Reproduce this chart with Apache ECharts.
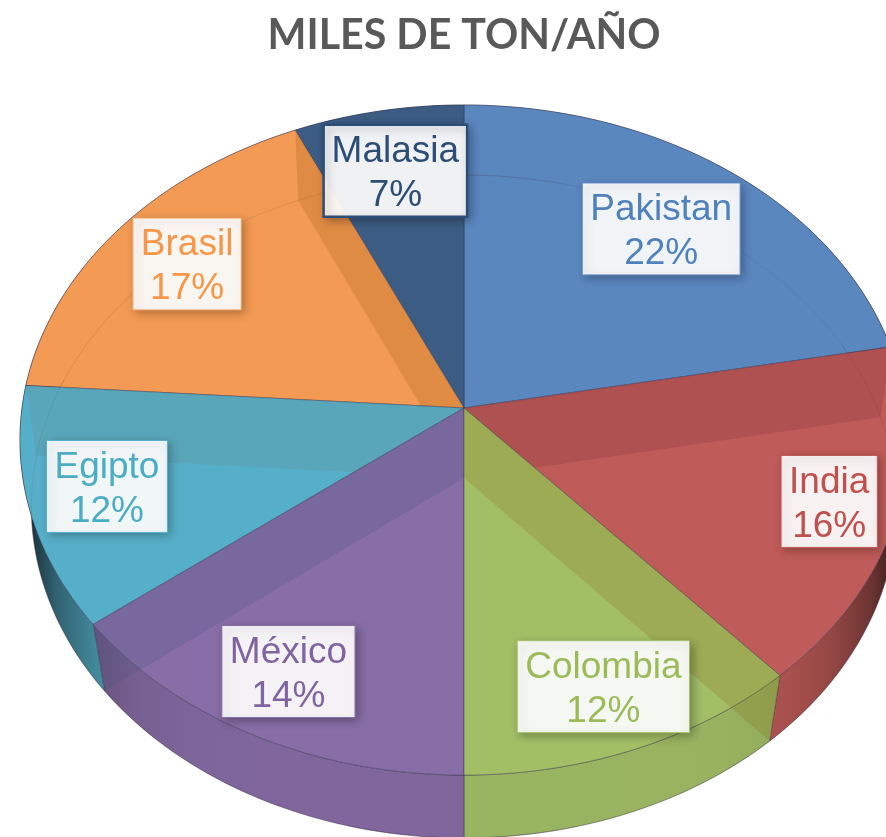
<!DOCTYPE html>
<html>
<head>
<meta charset="utf-8">
<title>MILES DE TON/AÑO</title>
<script src="https://cdn.jsdelivr.net/npm/echarts@6/dist/echarts.min.js"></script>
<style>
html, body { margin: 0; padding: 0; background: #fff; overflow: hidden; }
#chart { width: 886px; height: 837px; }
</style>
</head>
<body>
<div id="chart"></div>
<script>
var chartTitle = 'MILES DE TON/AÑO';
var categories = ['Pakistan', 'India', 'Colombia', 'México', 'Egipto', 'Brasil', 'Malasia'];
// valores, la etiqueta muestra el redondeo
var sliceValues = [22, 16.45, 11.55, 14.49, 11.6, 17.1, 6.81];

var topColors = ['#5b87bf', '#bf5b58', '#a3bf66', '#886da6', '#56afc9', '#f39a54', '#3c5c83'];
var bandColors = [null, 'rgba(106,41,48,0.18)', 'rgba(133,101,17,0.2)', 'rgba(66,84,126,0.2)', 'rgba(106,125,126,0.2)', 'rgba(148,79,4,0.2)', null];
var textColors = ['#4f81bd', '#c0504d', '#9bbb59', '#8064a2', '#4bacc6', '#f79646', '#2c4d75'];
var labelRadius = [0.738, 0.85, 0.83, 0.825, 0.823, 0.795, 0.785];
var labelTurn = [0, 0, 0.2, 0.5, 0.65, 0, 0];

// caras del cilindro: la de arriba y la de abajo, con perspectiva
var centerX = 464;
var topFace = { cy: 408, rx: 442, ry: 332, k: 0.0956 };
var bottomFace = { cy: 478, rx: 431, ry: 329, k: 0.086 };

var labelFont = '37px "Liberation Sans", Arial, sans-serif';
var measureCtx = document.createElement('canvas').getContext('2d');
measureCtx.font = labelFont;

var total = sliceValues.reduce(function (a, b) { return a + b; }, 0);
var angles = [0];
sliceValues.forEach(function (v, i) {
    angles.push(angles[i] + v / total * 360);
});

function project(face, deg, r) {
    var a = deg * Math.PI / 180;
    var u = Math.sin(a) * r;
    var v = -Math.cos(a) * r;
    var w = 1 / (1 - face.k * v);
    return [centerX + face.rx * u * w, face.cy + face.ry * v * w];
}

function rim(face, from, to) {
    var pts = [];
    var steps = Math.max(2, Math.ceil(Math.abs(to - from)));
    for (var i = 0; i <= steps; i++) {
        pts.push(project(face, from + (to - from) * i / steps, 1));
    }
    return pts;
}

function shade(hex, t) {
    var n = parseInt(hex.slice(1), 16);
    var r = Math.round((n >> 16 & 255) * (1 - t));
    var g = Math.round((n >> 8 & 255) * (1 - t));
    var b = Math.round((n & 255) * (1 - t));
    return 'rgb(' + r + ',' + g + ',' + b + ')';
}

// la pared exterior se oscurece hacia los extremos izquierdo y derecho
function wallGradient(hex) {
    var stops = [];
    for (var i = 0; i <= 24; i++) {
        var p = i / 24;
        var u = Math.abs(2 * p - 1);
        stops.push({ offset: p, color: shade(hex, 0.06 + Math.pow(u, 8) * 0.75) });
    }
    return new echarts.graphic.LinearGradient(centerX - 444, 0, centerX + 444, 0, stops, true);
}

function renderSlice(params, api) {
    var i = params.dataIndex;
    var a0 = angles[i];
    var a1 = angles[i + 1];
    var mid = (a0 + a1) / 2;
    var color = topColors[i];
    // la pared interior visible es la del lado del fondo
    var farAngle = mid < 180 ? a0 : a1;
    var depth = -Math.cos(farAngle * Math.PI / 180);
    var z = 100 + depth * 50;

    var center = [centerX, topFace.cy];
    var bottomCenter = [centerX, bottomFace.cy];
    var topRim = rim(topFace, a0, a1);
    var bottomRim = rim(bottomFace, a0, a1);
    var margin = 14;
    var innerRim = rim(bottomFace, a0 - margin, a1 + margin);

    var percent = Math.round(api.value(0)) + '%';
    var labelAt = project(topFace, mid + labelTurn[i], labelRadius[i]);
    var boxW = Math.max(measureCtx.measureText(categories[i]).width, measureCtx.measureText(percent).width) + 16;
    var boxH = 92;

    var children = [
        {
            type: 'polygon',
            z2: 10,
            shape: { points: topRim.concat(bottomRim.slice().reverse()) },
            style: { fill: wallGradient(color), stroke: 'rgba(50,40,60,0.4)', lineWidth: 1 }
        },
        {
            type: 'polygon',
            z2: z,
            shape: { points: [center].concat(topRim) },
            style: { fill: color, stroke: 'rgba(50,50,80,0.45)', lineWidth: 1 }
        },
        {
            type: 'polyline',
            z2: z + 0.5,
            shape: { points: innerRim },
            style: { fill: null, stroke: 'rgba(40,40,60,0.1)', lineWidth: 1 }
        },
        {
            type: 'rect',
            z2: 400,
            shape: { x: labelAt[0] - boxW / 2, y: labelAt[1] - boxH / 2, width: boxW, height: boxH },
            style: {
                fill: 'rgba(255,255,255,0.93)',
                stroke: i === 6 ? textColors[i] : color,
                lineWidth: i === 6 ? 2.5 : 1,
                shadowColor: 'rgba(0,0,0,0.3)',
                shadowBlur: 9,
                shadowOffsetX: 3,
                shadowOffsetY: 3
            }
        },
        {
            type: 'text',
            z2: 401,
            style: {
                text: categories[i] + '\n' + percent,
                x: labelAt[0],
                y: labelAt[1] + 3,
                align: 'center',
                verticalAlign: 'middle',
                font: labelFont,
                lineHeight: 44,
                fill: textColors[i]
            }
        }
    ];

    if (bandColors[i]) {
        var wallRim = project(topFace, farAngle, 1);
        var wallBottom = project(bottomFace, farAngle, 1);
        children.push({
            type: 'polygon',
            z2: z + 1,
            shape: { points: [center, wallRim, wallBottom, bottomCenter] },
            style: { fill: bandColors[i] }
        });
    }

    return { type: 'group', children: children };
}

var myChart = echarts.init(document.getElementById('chart'));
myChart.setOption({
    animation: false,
    backgroundColor: '#ffffff',
    title: {
        text: chartTitle,
        left: 459,
        top: 10,
        textAlign: 'center',
        textStyle: {
            color: '#595959',
            fontFamily: 'Lato',
            fontWeight: 'bold',
            fontSize: 41.2
        }
    },
    series: [
        {
            name: chartTitle,
            type: 'custom',
            coordinateSystem: 'none',
            renderItem: renderSlice,
            data: sliceValues.map(function (v, i) {
                return { name: categories[i], value: v };
            })
        }
    ]
});
</script>
</body>
</html>
